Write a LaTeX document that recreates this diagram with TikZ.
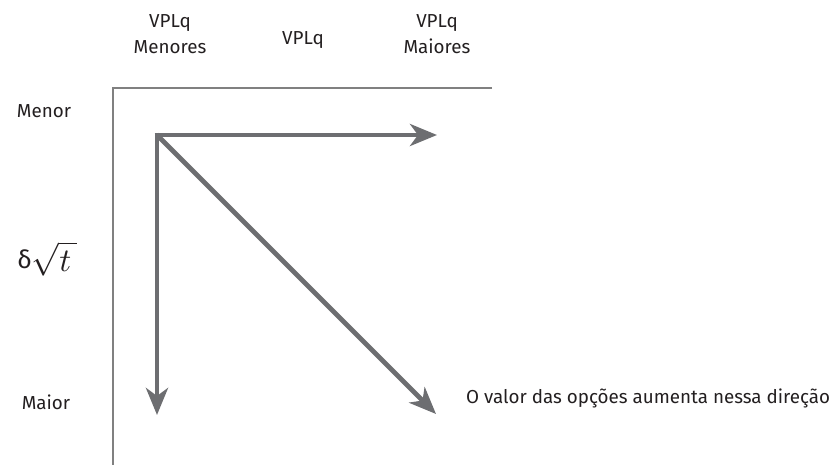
\documentclass[tikz,border=0pt]{standalone}
\usepackage{fontspec}
\setmainfont{Fira Sans}
\usetikzlibrary{arrows.meta}
\definecolor{arrowgray}{HTML}{6D6E71}
\definecolor{axisgray}{HTML}{808080}
\definecolor{txt}{HTML}{231F20}
\begin{document}
\begin{tikzpicture}[x=1pt,y=-1pt,
  lbl/.style={inner sep=0pt, text=txt, font=\fontsize{18.8}{25.5}\selectfont, align=center},
  axisline/.style={draw=axisgray, line width=1.3pt},
  bigarrow/.style={draw=arrowgray, line width=4.8pt, line cap=butt,
    -{Stealth[length=27pt,width=22pt,inset=8pt]}}]
\useasboundingbox (0,0) rectangle (832,465);
% axes
\coordinate (ax0) at (113,88);
\coordinate (axr) at (492,88);
\coordinate (axb) at (113,465);
\draw[axisline] (axr) -- (ax0) -- (axb);
% arrows
\coordinate (O) at (157,135);
\coordinate (tipR) at (437,135);
\coordinate (tipD) at (157,415);
\coordinate (tipDiag) at (436,414);
\draw[bigarrow] ([yshift=2.4pt]O) -- (tipD);
\draw[bigarrow] ([xshift=-2.4pt]O) -- (tipR);
\draw[bigarrow] (O) -- (tipDiag);
% top labels
\node[lbl] (menores) at (170,34) {VPLq\\Menores};
\node[lbl] (mid) at (303,40) {VPLq};
\node[lbl] (maiores) at (437,34) {VPLq\\Maiores};
% left labels
\node[lbl] (menor) at (44,111) {Menor};
\node[lbl, font=\fontsize{25}{28}\selectfont] (delta) at (47,259) {δ\raisebox{-2.5pt}{{\normalsize\scalebox{3.3}{$\sqrt{t\,}$}}}};
\node[lbl] (maior) at (46,402) {Maior};
% right label
\node[lbl, anchor=west] (valor) at (466,398) {O valor das opções aumenta nessa direção};
\end{tikzpicture}
\end{document}
